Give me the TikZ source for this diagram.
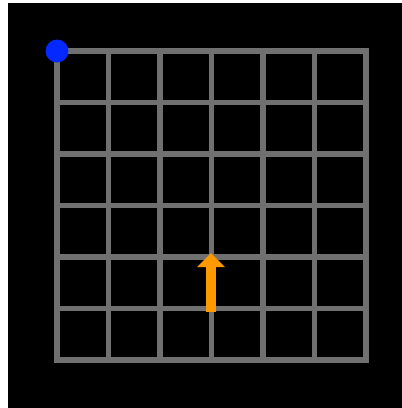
\documentclass[tikz,border=0pt]{standalone}
\usetikzlibrary{arrows.meta}
\definecolor{gridgray}{RGB}{112,112,112}
\definecolor{dotblue}{RGB}{5,40,255}
\definecolor{arroworange}{RGB}{255,153,0}
\tikzset{gridline/.style={draw=gridgray,line width=5.5pt,line cap=rect}}
\begin{document}
\begin{tikzpicture}[x=1pt,y=-1pt]
\useasboundingbox (0,0) rectangle (402,408);
\fill[white] (0,0) rectangle (402,408);
\fill[black] (8,3) rectangle (402,408);
\foreach \i in {0,...,6} {
  \pgfmathsetmacro{\p}{57+\i*51.5}
  \draw[gridline] (\p,51) -- (\p,360);
  \pgfmathsetmacro{\q}{51+\i*51.5}
  \draw[gridline] (57,\q) -- (366,\q);
}
\fill[dotblue] (57,51) circle (11.5);
\coordinate (tail) at (211,312);
\coordinate (tip) at (211,253);
\draw[arroworange,line width=10pt,-{Triangle[width=27pt,length=14pt]}] (tail) -- (tip);
\end{tikzpicture}
\end{document}
